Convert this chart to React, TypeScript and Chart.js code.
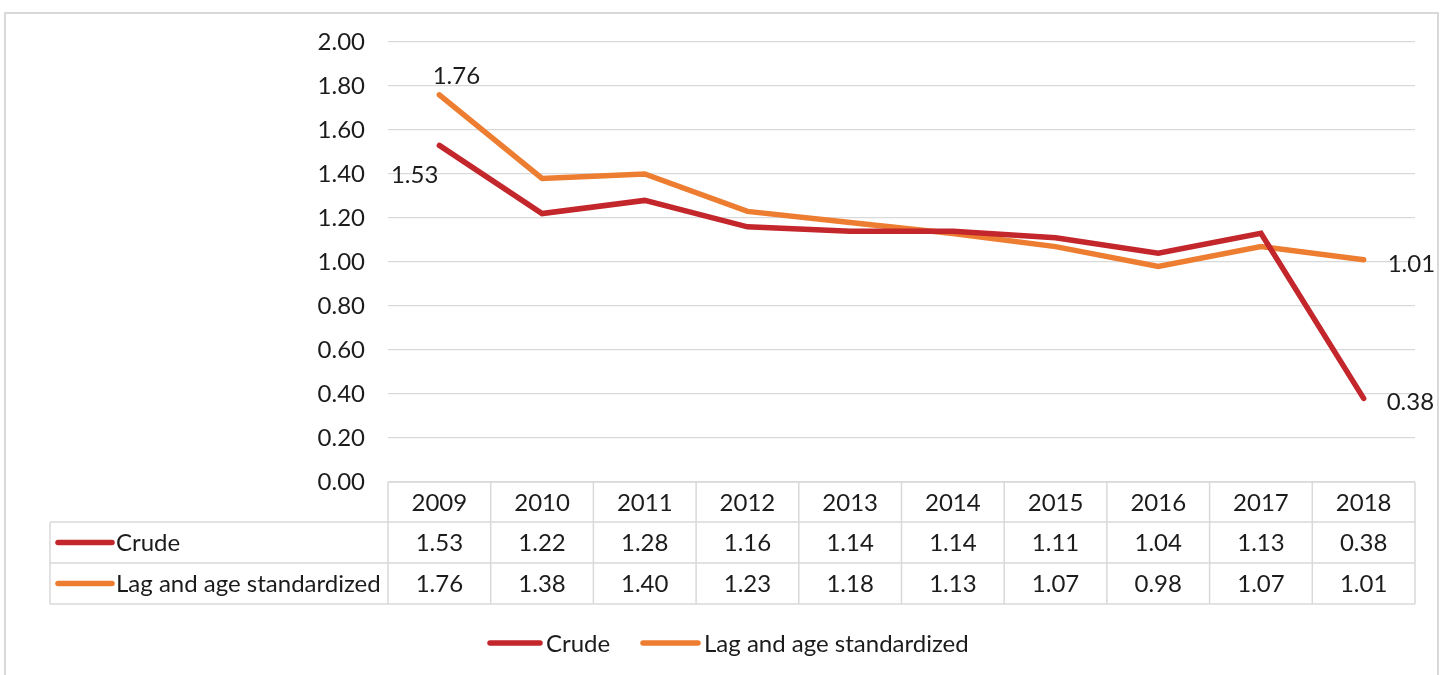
import React, { useEffect, useRef } from "react";
import { Chart, registerables } from "chart.js";

Chart.register(...registerables);

const years = ["2009", "2010", "2011", "2012", "2013", "2014", "2015", "2016", "2017", "2018"];
const crude = [1.53, 1.22, 1.28, 1.16, 1.14, 1.14, 1.11, 1.04, 1.13, 0.38];
const lagAge = [1.76, 1.38, 1.4, 1.23, 1.18, 1.13, 1.07, 0.98, 1.07, 1.01];
const seriesNames = ["Crude", "Lag and age standardized"];
const colors = ["#C3262B", "#ED7D31"];
const yTicks = { min: 0, max: 2, step: 0.2 };

const FONT = "Lato, 'Open Sans', sans-serif";
const FSIZE = 24;
const GRID = "#d9d9d9";
const TEXT = "#1c1c1c";

const tablePlugin = {
  id: "tablePlugin",
  beforeDraw(chart: any) {
    const ctx = chart.ctx;
    ctx.save();
    ctx.fillStyle = "#ffffff";
    ctx.fillRect(0, 0, chart.width, chart.height);
    ctx.strokeStyle = GRID;
    ctx.lineWidth = 2;
    ctx.strokeRect(5, 13, 1433, 700);
    ctx.restore();
  },
  afterDraw(chart: any) {
    const ctx = chart.ctx;
    const ca = chart.chartArea;
    const n = years.length;
    const colW = (ca.right - ca.left) / n;
    const top = ca.bottom;
    const rowTops = [top, top + 40, top + 81, top + 122];
    const leftX = 50;
    ctx.save();
    ctx.strokeStyle = GRID;
    ctx.lineWidth = 1.5;
    ctx.beginPath();
    ctx.moveTo(ca.left, rowTops[0]);
    ctx.lineTo(ca.right, rowTops[0]);
    for (let r = 1; r < rowTops.length; r++) {
      ctx.moveTo(leftX, rowTops[r]);
      ctx.lineTo(ca.right, rowTops[r]);
    }
    for (let i = 0; i <= n; i++) {
      const x = ca.left + i * colW;
      ctx.moveTo(x, rowTops[0]);
      ctx.lineTo(x, rowTops[3]);
    }
    ctx.moveTo(leftX, rowTops[1]);
    ctx.lineTo(leftX, rowTops[3]);
    ctx.stroke();

    ctx.font = `${FSIZE}px ${FONT}`;
    ctx.fillStyle = TEXT;
    ctx.textAlign = "center";
    ctx.textBaseline = "middle";
    const xs = chart.scales.x;
    const rows = [crude, lagAge];
    for (let i = 0; i < n; i++) {
      const cx = xs.getPixelForValue(i);
      ctx.fillText(years[i], cx, (rowTops[0] + rowTops[1]) / 2 + 1);
      for (let r = 0; r < 2; r++) {
        ctx.fillText(rows[r][i].toFixed(2), cx, (rowTops[r + 1] + rowTops[r + 2]) / 2 + 1);
      }
    }
    ctx.textAlign = "left";
    ctx.lineCap = "round";
    ctx.lineWidth = 5.5;
    for (let r = 0; r < 2; r++) {
      const cy = (rowTops[r + 1] + rowTops[r + 2]) / 2;
      ctx.strokeStyle = colors[r];
      ctx.beginPath();
      ctx.moveTo(58, cy);
      ctx.lineTo(112, cy);
      ctx.stroke();
      ctx.fillStyle = TEXT;
      ctx.fillText(seriesNames[r], 116, cy + 1);
    }

    const ly = 643;
    const legendItems = [
      { x: 490, w: 50 },
      { x: 643, w: 55 },
    ];
    for (let r = 0; r < 2; r++) {
      ctx.strokeStyle = colors[r];
      ctx.beginPath();
      ctx.moveTo(legendItems[r].x, ly);
      ctx.lineTo(legendItems[r].x + legendItems[r].w, ly);
      ctx.stroke();
      ctx.fillStyle = TEXT;
      ctx.fillText(seriesNames[r], legendItems[r].x + legendItems[r].w + 6, ly + 1);
    }

    const m0 = chart.getDatasetMeta(0).data;
    const m1 = chart.getDatasetMeta(1).data;
    const last = n - 1;
    ctx.fillStyle = TEXT;
    ctx.textAlign = "center";
    ctx.fillText(lagAge[0].toFixed(2), m1[0].x + 17, m1[0].y - 19);
    ctx.textAlign = "right";
    ctx.fillText(crude[0].toFixed(2), m0[0].x - 1, m0[0].y + 30);
    ctx.textAlign = "left";
    ctx.fillText(lagAge[last].toFixed(2), m1[last].x + 24, m1[last].y + 4);
    ctx.fillText(crude[last].toFixed(2), m0[last].x + 23, m0[last].y + 4);
    ctx.restore();
  },
};

export default function App() {
  const ref = useRef<HTMLCanvasElement | null>(null);
  useEffect(() => {
    if (!ref.current) return;
    const chart = new Chart(ref.current, {
      type: "line",
      data: {
        labels: years,
        datasets: [
          {
            label: seriesNames[0],
            data: crude,
            borderColor: colors[0],
            backgroundColor: colors[0],
            borderWidth: 5.5,
            pointRadius: 0,
            tension: 0,
            borderCapStyle: "round",
            borderJoinStyle: "miter",
          },
          {
            label: seriesNames[1],
            data: lagAge,
            borderColor: colors[1],
            backgroundColor: colors[1],
            borderWidth: 5.5,
            pointRadius: 0,
            tension: 0,
            borderCapStyle: "round",
            borderJoinStyle: "miter",
          },
        ],
      },
      options: {
        animation: false,
        responsive: false,
        maintainAspectRatio: false,
        layout: { padding: { left: 288, right: 32, top: 42, bottom: 193 } },
        plugins: { legend: { display: false }, tooltip: { enabled: false } },
        scales: {
          x: { display: false, offset: true },
          y: {
            min: yTicks.min,
            max: yTicks.max,
            afterFit: (s: any) => {
              s.width = 100;
            },
            border: { display: false },
            grid: { color: GRID, lineWidth: 1.2, drawTicks: false },
            ticks: {
              stepSize: yTicks.step,
              padding: 23,
              color: TEXT,
              font: { family: FONT, size: FSIZE },
              callback: (v: any) => Number(v).toFixed(2),
            },
          },
        },
      },
      plugins: [tablePlugin],
    });
    return () => chart.destroy();
  }, []);
  return (
    <div style={{ position: "absolute", left: 0, top: 0, width: 1447, height: 675, background: "#fff" }}>
      <canvas ref={ref} width={1447} height={675} style={{ width: 1447, height: 675, display: "block" }} />
    </div>
  );
}
